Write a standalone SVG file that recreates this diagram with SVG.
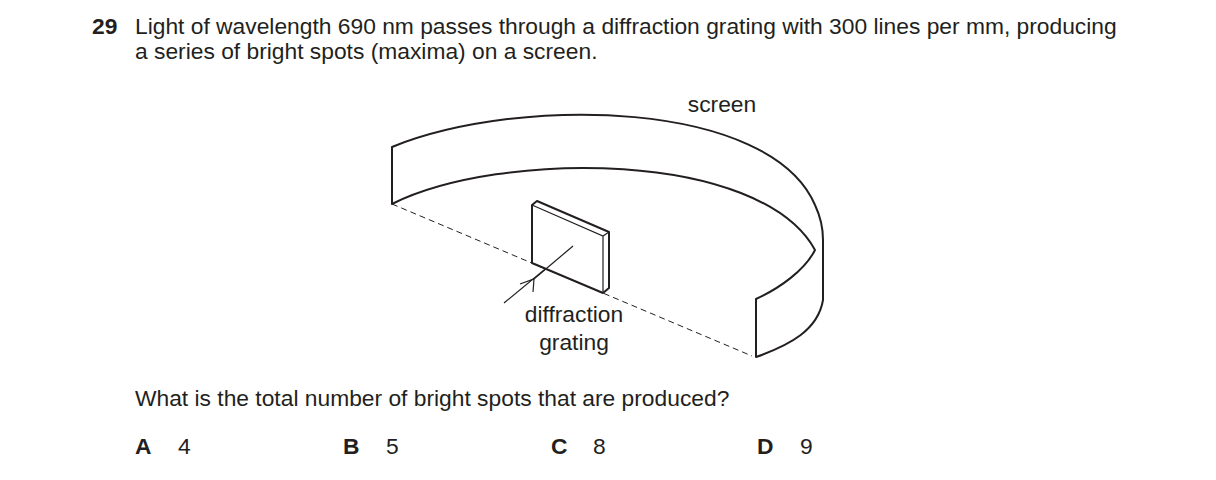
<svg xmlns="http://www.w3.org/2000/svg" width="1216" height="480" viewBox="0 0 1216 480">
<style>
text{font-family:"Liberation Sans",Arial,sans-serif;font-size:22.8px;fill:#231f20}
.b{font-weight:bold}
.l{fill:none;stroke:#231f20;stroke-width:2;stroke-linejoin:round}
.t{fill:none;stroke:#231f20;stroke-width:1.2}
.d{fill:none;stroke:#231f20;stroke-width:1;stroke-dasharray:6,4}
</style>
<rect width="1216" height="480" fill="#fff"/>
<text x="92" y="34" class="b">29</text>
<text x="135" y="34">Light of wavelength 690 nm passes through a diffraction grating with 300 lines per mm, producing</text>
<text x="135" y="59">a series of bright spots (maxima) on a screen.</text>
<g id="screen">
<path class="l" d="M392,147 C520,95 770,100 815,205 Q823,222 823,240 L823,300 C818,330 790,345 756,357 L756,299 C780,288 805,270 815,250 C760,150 500,150 392,204 Z"/>
</g>
<g id="connectors">
<path class="d" d="M392,204 L752,356"/>
<path class="t" d="M504,303 L573,246"/>
<path class="t" d="M520,284 L534,279 L533,292"/>
</g>
<g id="grating">
<path d="M532,205 L537,201 L609,232 L609,288 L603,293 L532,263 Z" fill="#fff" stroke="#231f20" stroke-width="2" stroke-linejoin="round"/>
<path class="t" d="M532,205 L603,236 L609,232 M603,236 L603,293"/>
<path class="t" d="M534,279 L573,246"/>
</g>
<text x="722" y="112" text-anchor="middle">screen</text>
<text x="574" y="322" text-anchor="middle">diffraction</text>
<text x="574" y="350" text-anchor="middle">grating</text>
<text x="135" y="406">What is the total number of bright spots that are produced?</text>
<text x="135" y="454" class="b">A</text><text x="178" y="454">4</text>
<text x="343" y="454" class="b">B</text><text x="386" y="454">5</text>
<text x="551" y="454" class="b">C</text><text x="593" y="454">8</text>
<text x="757" y="454" class="b">D</text><text x="800" y="454">9</text>
</svg>
